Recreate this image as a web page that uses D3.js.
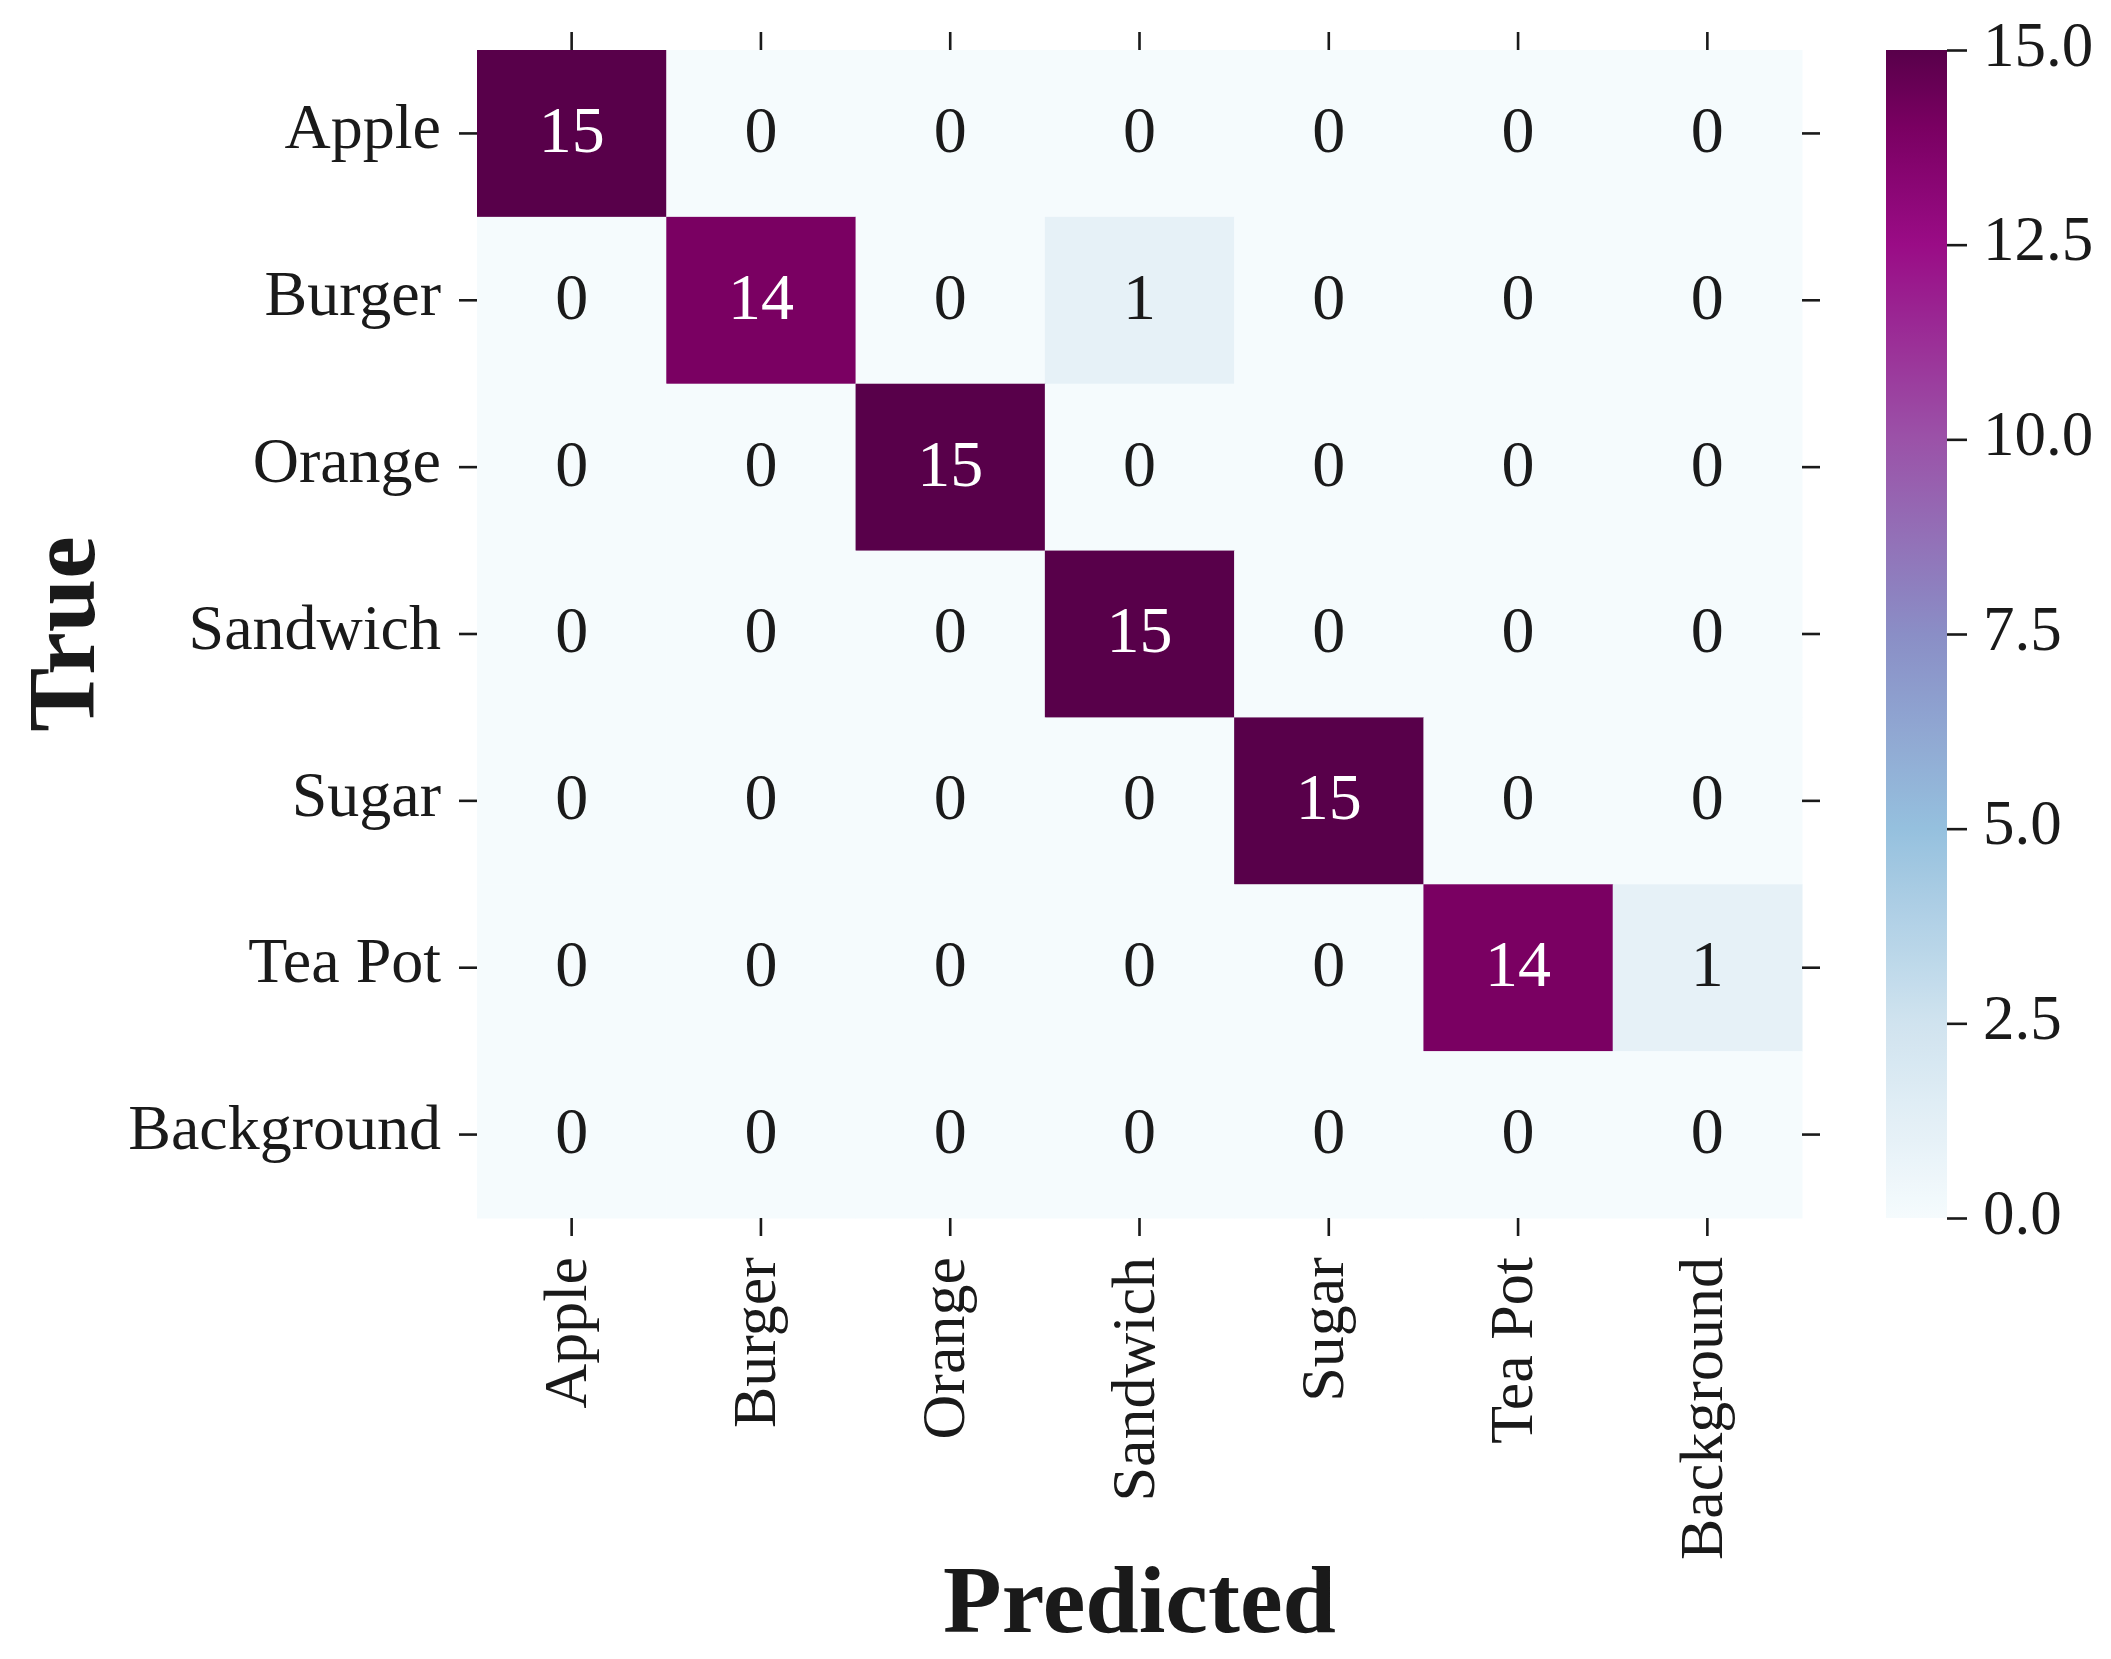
<!DOCTYPE html>
<html>
<head>
<meta charset="utf-8">
<script src="https://cdn.jsdelivr.net/npm/d3@7"></script>
<style>
    html, body { margin: 0; padding: 0; background: #fff; }
    svg text { font-family: "Liberation Serif", "Times New Roman", serif; fill: #1a1a1a; }
</style>
</head>
<body>
<div id="chart"></div>
<script>
"use strict";

// ------------------------- Data -------------------------

const trueLabels = ['Apple', 'Burger', 'Orange', 'Sandwich', 'Sugar', 'Tea Pot', 'Background'];
const predictedLabels = ['Apple', 'Burger', 'Orange', 'Sandwich', 'Sugar', 'Tea Pot', 'Background'];

// rows = true class, columns = predicted class
const confusion = [
    [15, 0, 0, 0, 0, 0, 0],
    [0, 14, 0, 1, 0, 0, 0],
    [0, 0, 15, 0, 0, 0, 0],
    [0, 0, 0, 15, 0, 0, 0],
    [0, 0, 0, 0, 15, 0, 0],
    [0, 0, 0, 0, 0, 14, 1],
    [0, 0, 0, 0, 0, 0, 0]
];

const colorbarTicks = [0, 2.5, 5, 7.5, 10, 12.5, 15];

// colour ramp (BuPu-like)
const rampValues = [0, 2.5, 5, 7.5, 10, 12.5, 14, 15];
const rampColors = ['#f5fbfd', '#d0e3ef', '#95c0de', '#8a8ec6', '#9b52a8', '#9a0c86', '#7a0062', '#58004a'];


// ------------------------- Layout -------------------------

const width = 2111;
const height = 1659;
const heat = { left: 477, right: 1802, top: 50, bottom: 1218 };
const bar = { left: 1886, right: 1947 };
const tickLength = 18;

const svg = d3.select('#chart')
    .append('svg')
    .attr('width', width)
    .attr('height', height);

svg.append('rect')
    .attr('width', width)
    .attr('height', height)
    .attr('fill', '#fff');

const x = d3.scaleBand()
    .domain(predictedLabels)
    .range([heat.left, heat.right]);

const y = d3.scaleBand()
    .domain(trueLabels)
    .range([heat.top, heat.bottom]);

const color = d3.scaleLinear()
    .domain(rampValues)
    .range(rampColors)
    .interpolate(d3.interpolateRgb)
    .clamp(true);

const cells = confusion.flatMap((row, i) => row.map((value, j) => ({
    truth: trueLabels[i],
    predicted: predictedLabels[j],
    value
})));


// ------------------------- Heatmap -------------------------

svg.append('g')
    .selectAll('rect')
    .data(cells)
    .join('rect')
    .attr('x', d => x(d.predicted))
    .attr('y', d => y(d.truth))
    .attr('width', x.bandwidth() + 0.5)
    .attr('height', y.bandwidth() + 0.5)
    .attr('fill', d => color(d.value));

svg.append('g')
    .selectAll('text')
    .data(cells)
    .join('text')
    .attr('x', d => x(d.predicted) + x.bandwidth() / 2)
    .attr('y', d => y(d.truth) + y.bandwidth() / 2)
    .attr('dy', '0.28em')
    .attr('text-anchor', 'middle')
    .style('font-size', '66px')
    .style('fill', d => luminance(color(d.value)) < 0.408 ? '#ffffff' : '#1a1a1a')
    .text(d => d.value);


// ------------------------- Axes -------------------------

const left = svg.append('g')
    .attr('transform', `translate(${heat.left},0)`)
    .call(d3.axisLeft(y).tickSize(tickLength).tickPadding(18));

left.selectAll('text')
    .attr('dy', '0.23em')
    .style('font-size', '64px');

const bottom = svg.append('g')
    .attr('transform', `translate(0,${heat.bottom})`)
    .call(d3.axisBottom(x).tickSize(tickLength).tickPadding(0));

bottom.selectAll('text')
    .attr('y', null)
    .attr('dy', null)
    .attr('transform', 'translate(0,39) rotate(-90)')
    .attr('text-anchor', 'end')
    .attr('dy', '0.23em')
    .style('font-size', '62px');

svg.append('g')
    .attr('transform', `translate(0,${heat.top})`)
    .call(d3.axisTop(x).tickSize(tickLength).tickFormat(''));

svg.append('g')
    .attr('transform', `translate(${heat.right},0)`)
    .call(d3.axisRight(y).tickSize(tickLength).tickFormat(''));

svg.selectAll('.domain').remove();
svg.selectAll('.tick line')
    .attr('stroke', '#1a1a1a')
    .attr('stroke-width', 2.6);


// ------------------------- Colorbar -------------------------

const barScale = d3.scaleLinear()
    .domain([0, 15])
    .range([heat.bottom, heat.top]);

const gradient = svg.append('defs')
    .append('linearGradient')
    .attr('id', 'bar-gradient')
    .attr('x1', 0).attr('y1', 1)
    .attr('x2', 0).attr('y2', 0);

gradient.selectAll('stop')
    .data(d3.range(0, 15.01, 0.25))
    .join('stop')
    .attr('offset', v => v / 15)
    .attr('stop-color', v => color(v));

svg.append('rect')
    .attr('x', bar.left)
    .attr('y', heat.top)
    .attr('width', bar.right - bar.left)
    .attr('height', heat.bottom - heat.top)
    .attr('fill', 'url(#bar-gradient)');

const barAxis = svg.append('g')
    .attr('transform', `translate(${bar.right},0)`)
    .call(d3.axisRight(barScale)
        .tickValues(colorbarTicks)
        .tickFormat(d3.format('.1f'))
        .tickSize(20)
        .tickPadding(16));

barAxis.select('.domain').remove();
barAxis.selectAll('.tick line')
    .attr('stroke', '#1a1a1a')
    .attr('stroke-width', 2.6);
barAxis.selectAll('text')
    .attr('dy', '0.24em')
    .style('font-size', '63px');


// ------------------------- Titles -------------------------

svg.append('text')
    .attr('x', (heat.left + heat.right) / 2)
    .attr('y', 1632)
    .attr('text-anchor', 'middle')
    .style('font-size', '96px')
    .style('font-weight', 'bold')
    .text('Predicted');

svg.append('text')
    .attr('transform', `translate(94,${(heat.top + heat.bottom) / 2}) rotate(-90)`)
    .attr('text-anchor', 'middle')
    .style('font-size', '96px')
    .style('font-weight', 'bold')
    .text('True');


// ------------------------- Helpers -------------------------

function luminance(c) {
    const rgb = d3.rgb(c);
    const lin = v => {
        const s = v / 255;
        return s <= 0.03928 ? s / 12.92 : Math.pow((s + 0.055) / 1.055, 2.4);
    };
    return 0.2126 * lin(rgb.r) + 0.7152 * lin(rgb.g) + 0.0722 * lin(rgb.b);
}
</script>
</body>
</html>
